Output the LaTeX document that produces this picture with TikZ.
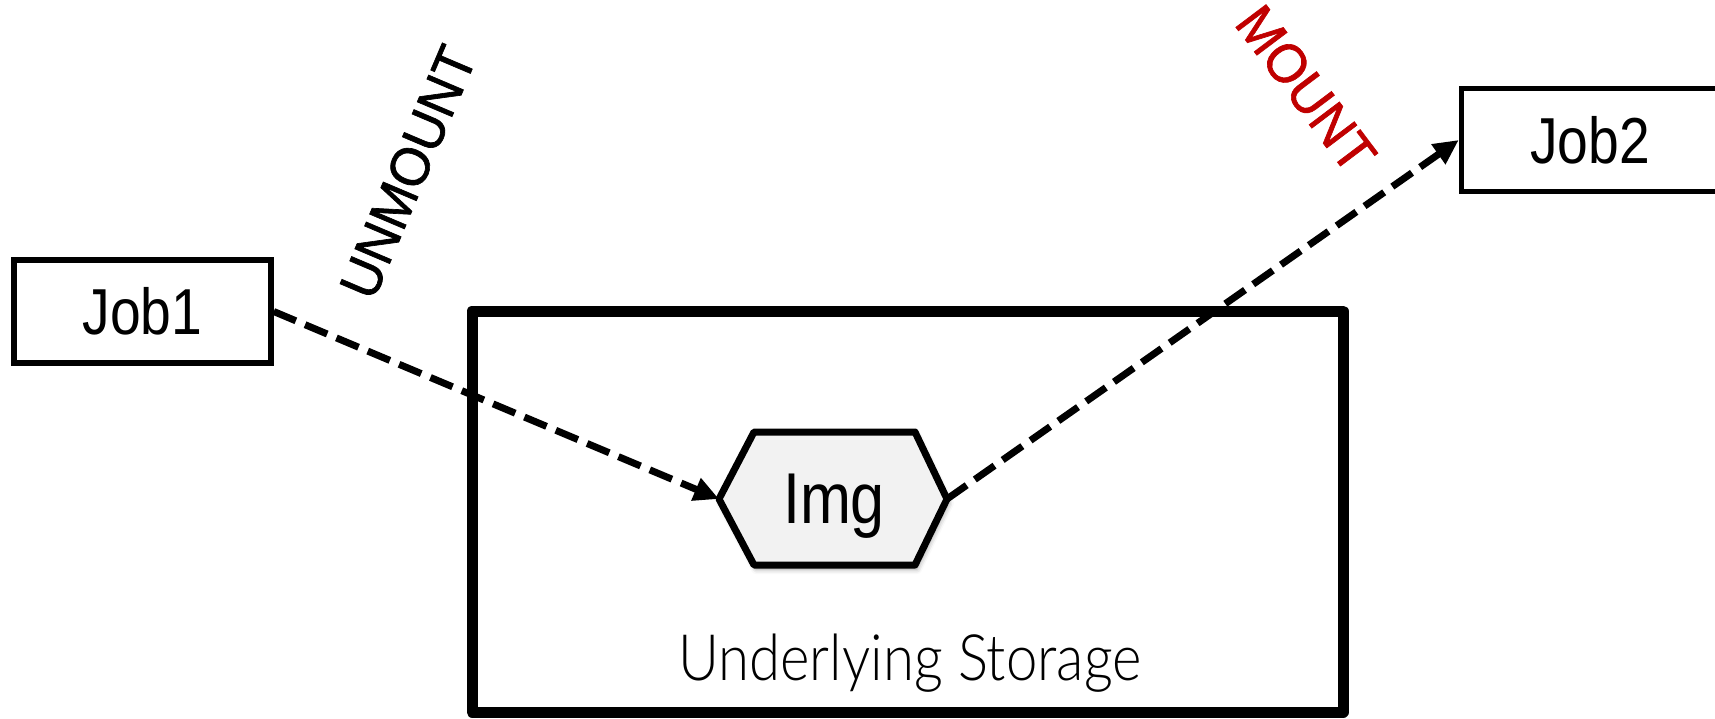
\documentclass[tikz,border=0pt]{standalone}
\usepackage{fontspec}
\usetikzlibrary{arrows.meta,shadows.blur}
\newfontfamily\condfont[FakeStretch=0.85]{Liberation Sans}
\newfontfamily\labelfont[FakeStretch=0.95,FakeBold=1.2]{Liberation Sans}
\newfontfamily\lightfont[FakeStretch=0.88]{Lato Light}
\definecolor{mountred}{RGB}{192,0,0}
\definecolor{imgfill}{RGB}{242,242,242}
\tikzset{
  jobbox/.style={draw=black, line width=5.5pt, fill=white, inner sep=0pt,
    minimum width=257pt, minimum height=103pt,
    font=\condfont\fontsize{65}{65}\selectfont},
  storagebox/.style={draw=black, line width=11pt, line join=round},
  hexshape/.style={draw=black, line width=7pt, line join=round, fill=imgfill,
    blur shadow={shadow xshift=2pt, shadow yshift=-4pt, shadow blur radius=5pt, shadow opacity=40}},
  bigtext/.style={inner sep=0pt, font=\condfont\fontsize{72}{72}\selectfont},
  lighttext/.style={inner sep=0pt, font=\lightfont\fontsize{64}{64}\selectfont},
  steplabel/.style={inner sep=0pt, font=\labelfont\fontsize{55}{55}\selectfont},
  flow/.style={line width=7pt, dash pattern=on 24pt off 10pt,
    -{Triangle[length=25pt,width=23pt]}}
}
\begin{document}
\begin{tikzpicture}[x=1pt,y=-1pt]
\useasboundingbox (0,0) rectangle (1715,718);

% storage container
\draw[storagebox] (472,311) rectangle (1343,712);
\node[lighttext, anchor=base] (storage) at (910,680) {Underlying Storage};

% jobs
\node[jobbox] (job1) at (142.5,311.5) {Job1};
\node[jobbox] (job2) at (1590,140) {Job2};

% image hexagon corners
\coordinate (imgW) at (719,499);
\coordinate (imgNW) at (754,432);
\coordinate (imgNE) at (915,432);
\coordinate (imgE) at (947,499);
\coordinate (imgSE) at (915,565);
\coordinate (imgSW) at (754,565);

% connectors
\draw[flow] (job1.east) -- (imgW);
\draw[flow] (imgE) -- (job2.west);

% image hexagon
\draw[hexshape] (imgW) -- (imgNW) -- (imgNE) -- (imgE) -- (imgSE) -- (imgSW) -- cycle;
\node[bigtext, anchor=base] (img) at (834,523) {Img};

% step labels
\node[steplabel, rotate=67] (unmount) at (408,172) {UNMOUNT};
\node[steplabel, rotate=-53, text=mountred] (mount) at (1306,89) {MOUNT};
\end{tikzpicture}
\end{document}
